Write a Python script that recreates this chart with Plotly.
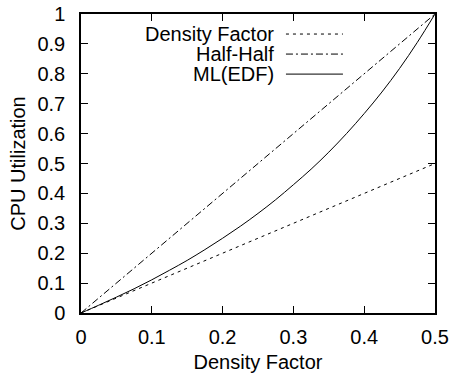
import plotly.graph_objects as go

# Data
density_x = [0, 0.5]
density_y = [0, 0.5]

halfhalf_x = [0, 0.5]
halfhalf_y = [0, 1.0]

ml_x = [0, 0.025, 0.05, 0.075, 0.1, 0.125, 0.15, 0.175, 0.2, 0.225, 0.25,
        0.275, 0.3, 0.325, 0.35, 0.375, 0.4, 0.425, 0.45, 0.475, 0.5]
ml_y = [0, 0.026, 0.053, 0.081, 0.111, 0.143, 0.176, 0.212, 0.25, 0.29, 0.333,
        0.379, 0.429, 0.481, 0.538, 0.6, 0.667, 0.739, 0.818, 0.905, 1.0]

x_ticks = [0, 0.1, 0.2, 0.3, 0.4, 0.5]
x_tick_labels = ["0", "0.1", "0.2", "0.3", "0.4", "0.5"]
y_ticks = [0, 0.1, 0.2, 0.3, 0.4, 0.5, 0.6, 0.7, 0.8, 0.9, 1.0]
y_tick_labels = ["0", "0.1", "0.2", "0.3", "0.4", "0.5", "0.6", "0.7", "0.8", "0.9", "1"]

series_names = ["Density Factor", "Half-Half", "ML(EDF)"]
DOT = "3px,4px"
DASHDOT = "7px,3px,2px,3px"
series_dash = [DOT, DASHDOT, "solid"]

FONT = "Liberation Sans, Arial, Helvetica, sans-serif"
FS = 20

fig = go.Figure()
for xs, ys, name, dash in zip([density_x, halfhalf_x, ml_x],
                              [density_y, halfhalf_y, ml_y],
                              series_names, series_dash):
    fig.add_trace(go.Scatter(x=xs, y=ys, mode="lines", name=name,
                             line=dict(color="black", width=1, dash=dash,
                                       shape="spline" if name == "ML(EDF)" else "linear"),
                             showlegend=False, hoverinfo="skip"))

# gnuplot-style key: right-aligned text with line sample to its right
key_rows = [0.933, 0.866, 0.799]
for name, dash, yk in zip(series_names, series_dash, key_rows):
    fig.add_annotation(x=0.548, y=yk, xref="paper", yref="paper", text=name,
                       showarrow=False, xanchor="right", yanchor="middle",
                       borderpad=0,
                       font=dict(family=FONT, size=FS, color="black"))
    fig.add_shape(type="line", xref="paper", yref="paper",
                  x0=0.579, x1=0.740, y0=yk, y1=yk,
                  line=dict(color="black", width=1, dash=dash))

axis_common = dict(showline=True, linecolor="black", linewidth=1.5, mirror="ticks",
                   ticks="inside", ticklen=7, tickwidth=1, tickcolor="black",
                   showgrid=False, zeroline=False, automargin=False,
                   ticklabeloverflow="allow",
                   tickfont=dict(family=FONT, size=FS, color="black"))

fig.update_xaxes(range=[0, 0.5], tickvals=x_ticks, ticktext=x_tick_labels,
                 ticklabelstandoff=5,
                 title=dict(text="Density Factor", font=dict(family=FONT, size=FS, color="black"),
                            standoff=8),
                 **axis_common)
fig.update_yaxes(range=[0, 1], tickvals=y_ticks, ticktext=y_tick_labels,
                 ticklabelstandoff=10,
                 title=dict(text="CPU Utilization", font=dict(family=FONT, size=FS, color="black"),
                            standoff=6),
                 **axis_common)

fig.update_layout(width=452, height=376,
                  margin=dict(l=81, r=17, t=14, b=63),
                  plot_bgcolor="white", paper_bgcolor="white",
                  font=dict(family=FONT, size=FS, color="black"))

# remove the default page margin so the figure fills the window exactly
fig.write_html("out.html", config={"displayModeBar": False},
               post_script="document.body.style.margin='0';document.body.style.overflow='hidden';")
